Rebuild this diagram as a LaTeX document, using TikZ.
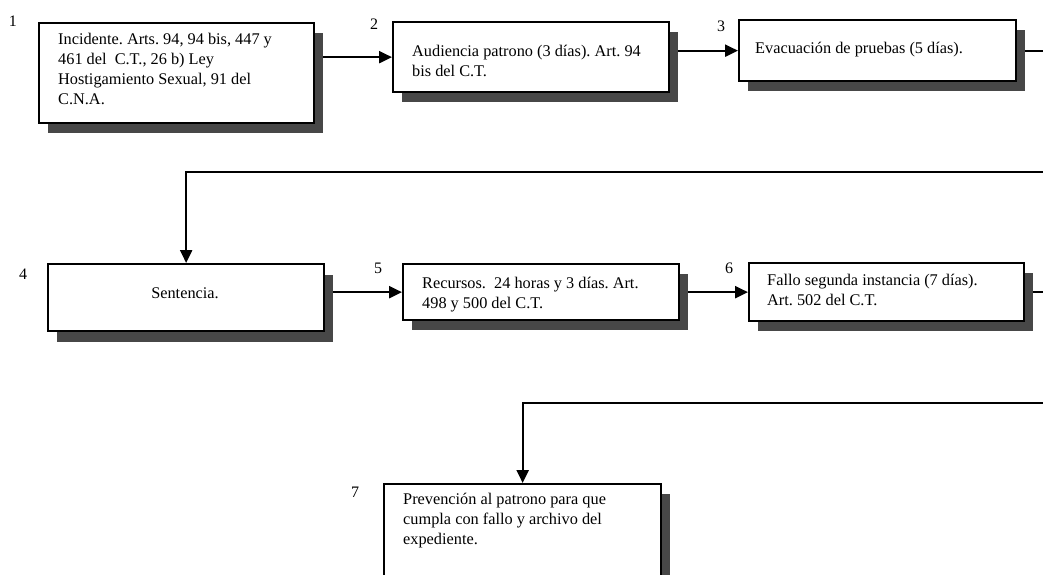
\documentclass[tikz,border=0pt]{standalone}
\usepackage{fontspec}
\setmainfont{Liberation Serif}
\usetikzlibrary{arrows.meta}
\begin{document}
\frenchspacing
\begin{tikzpicture}[x=1pt,y=-1pt,
  box/.style={draw=black, line width=2.3pt, fill=white, rectangle, inner sep=0pt, anchor=north west},
  shade/.style={fill=black!72, draw=none, rectangle, inner sep=0pt, anchor=north west},
  txt/.style={anchor=north west, inner sep=0pt, align=left, font=\fontsize{16.3}{20}\selectfont},
  num/.style={inner sep=0pt, font=\fontsize{16}{18}\selectfont},
  conn/.style={line width=2.3pt, -{Triangle[length=13pt,width=12pt]}}]
\useasboundingbox[fill=white] (0,0) rectangle (1043,574);
% ---- boxes: shadow then box ----
% Box 1 (38,22)-(313,122)
\node[shade, minimum width=275pt, minimum height=100pt] (s1) at (48,33) {};
\node[box, minimum width=275pt, minimum height=100pt] (n1) at (38,22) {};
% Box 2 (392,21)-(668,91)
\node[shade, minimum width=276pt, minimum height=70pt] (s2) at (402,32) {};
\node[box, minimum width=276pt, minimum height=70pt] (n2) at (392,21) {};
% Box 3 (738,19)-(1015,80)
\node[shade, minimum width=277pt, minimum height=61pt] (s3) at (748,30) {};
\node[box, minimum width=277pt, minimum height=61pt] (n3) at (738,19) {};
% Box 4 (47,263)-(323,330)
\node[shade, minimum width=276pt, minimum height=67pt] (s4) at (57,275) {};
\node[box, minimum width=276pt, minimum height=67pt] (n4) at (47,263) {};
% Box 5 (402,263)-(678,319)
\node[shade, minimum width=276pt, minimum height=56pt] (s5) at (412,274) {};
\node[box, minimum width=276pt, minimum height=56pt] (n5) at (402,263) {};
% Box 6 (748,262)-(1023,320)
\node[shade, minimum width=275pt, minimum height=58pt] (s6) at (758,273) {};
\node[box, minimum width=275pt, minimum height=58pt] (n6) at (748,262) {};
% Box 7 (383,483)-(660,574)
\node[shade, minimum width=277pt, minimum height=92pt] (s7) at (393,494) {};
\node[box, minimum width=277pt, minimum height=92pt] (n7) at (383,483) {};
% ---- texts ----
\node[txt] (t1) at (58,32) {\rule{0pt}{12pt}Incidente. Arts. 94, 94 bis, 447 y\\461 del~ C.T., 26 b) Ley\\Hostigamiento Sexual, 91 del\\C.N.A.};
\node[txt] (t2) at (412,44) {\rule{0pt}{12pt}Audiencia patrono (3 días). Art. 94\\bis del C.T.};
\node[txt] (t3) at (755,41) {\rule{0pt}{12pt}Evacuación de pruebas (5 días).};
\node[txt, anchor=base] (t4) at (185,298) {Sentencia.};
\node[txt] (t5) at (422,276) {\rule{0pt}{12pt}Recursos.~ 24 horas y 3 días. Art.\\498 y 500 del C.T.};
\node[txt] (t6) at (767,273) {\rule{0pt}{12pt}Fallo segunda instancia (7 días).\\Art. 502 del C.T.};
\node[txt] (t7) at (403,492) {\rule{0pt}{12pt}Prevención al patrono para que\\cumpla con fallo y archivo del\\expediente.};
% ---- step numbers ----
\node[num] (l1) at (13,21) {1};
\node[num] (l2) at (374,24) {2};
\node[num] (l3) at (721,26) {3};
\node[num] (l4) at (23,274) {4};
\node[num] (l5) at (378,268) {5};
\node[num] (l6) at (729,268) {6};
\node[num] (l7) at (355,492) {7};
% ---- connectors ----
\coordinate (k1) at (1049,172);
\coordinate (k2) at (1049,403);
\draw[conn] (s1.east |- n2.west) -- (n2.west);
\draw[conn] (s2.east |- n3.west) -- (n3.west);
\draw[conn] (s3.east |- n3.east) -| (k1) -| (n4.north);
\draw[conn] (s4.east |- n5.west) -- (n5.west);
\draw[conn] (s5.east |- n6.west) -- (n6.west);
\draw[conn] (s6.east |- n6.east) -| (k2) -| (n7.north);
\end{tikzpicture}
\end{document}
